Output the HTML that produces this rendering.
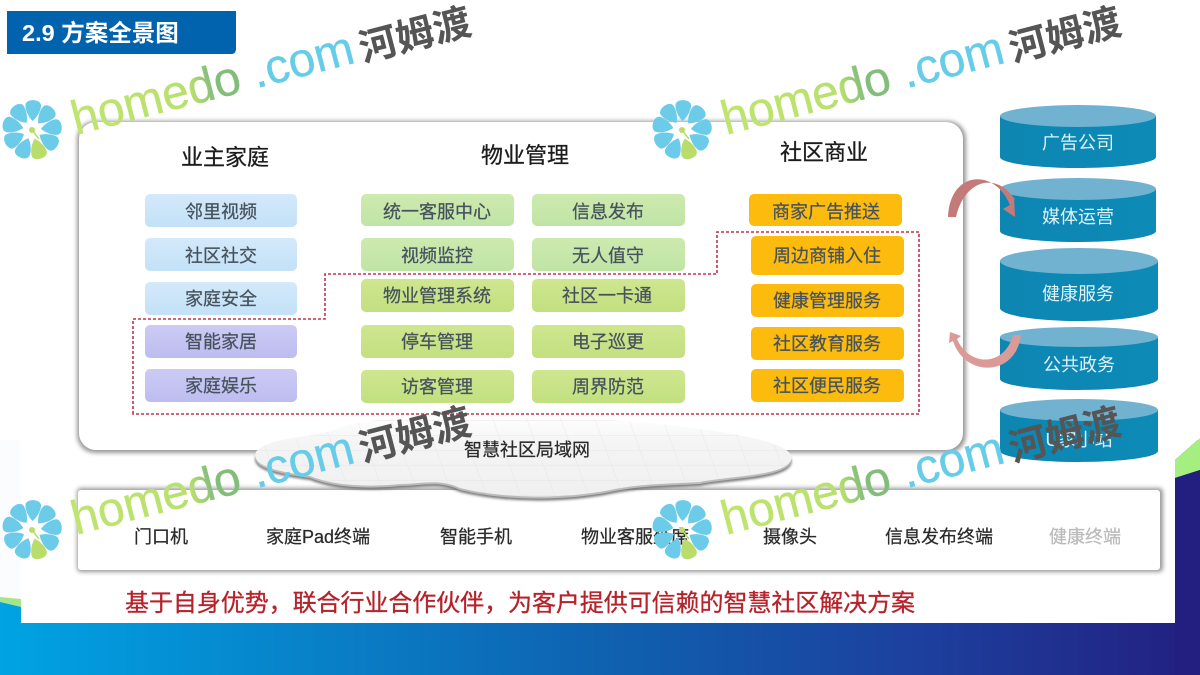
<!DOCTYPE html>
<html><head><meta charset="utf-8">
<style>
html,body{margin:0;padding:0;background:#fff}
body{width:1200px;height:675px;overflow:hidden}
svg{display:block}
text{font-family:"Liberation Sans","Noto Sans CJK SC",sans-serif}
.l{font-size:18px;fill:#46525c;stroke:#46525c;stroke-width:.25;text-anchor:middle}
.h{font-size:22px;fill:#1c1c1c;stroke:#1c1c1c;stroke-width:.3;text-anchor:middle}
.t{font-size:18px;fill:#2c2c2c;stroke:#2c2c2c;stroke-width:.25;text-anchor:middle}
.c{font-size:18px;fill:#dff2f7;text-anchor:middle}
.wm1{font-size:48px;font-weight:400;fill:url(#wm);stroke:url(#wm);stroke-width:.4}
.wm2{font-size:38px;font-weight:700;fill:#555}
</style></head><body>
<svg width="1200" height="675" viewBox="0 0 1200 675" xmlns="http://www.w3.org/2000/svg">
<defs>
<linearGradient id="bg" x1="0" x2="1" y1="0" y2="0"><stop offset="0" stop-color="#00a3e3"/><stop offset=".5" stop-color="#0f62b0"/><stop offset=".78" stop-color="#1d3e9c"/><stop offset="1" stop-color="#231f80"/></linearGradient>
<linearGradient id="blue" x1="0" y1="0" x2="0" y2="1"><stop offset="0" stop-color="#d4e9fa"/><stop offset="1" stop-color="#c3e1f7"/></linearGradient>
<linearGradient id="pur" x1="0" y1="0" x2="0" y2="1"><stop offset="0" stop-color="#cdcbf5"/><stop offset="1" stop-color="#bdbcf0"/></linearGradient>
<linearGradient id="gr1" x1="0" y1="0" x2="0" y2="1"><stop offset="0" stop-color="#cdeaaf"/><stop offset="1" stop-color="#c0e4a6"/></linearGradient>
<linearGradient id="gr2" x1="0" y1="0" x2="0" y2="1"><stop offset="0" stop-color="#cfe68f"/><stop offset="1" stop-color="#c2e080"/></linearGradient>
<linearGradient id="cyl" x1="0" x2="1" y1="0" y2="0"><stop offset="0" stop-color="#0f86b2"/><stop offset="1" stop-color="#118ab6"/></linearGradient>
<linearGradient id="cloudf" x1="0" y1="0" x2="0" y2="1"><stop offset="0" stop-color="#fff"/><stop offset=".35" stop-color="#f4f4f4"/><stop offset="1" stop-color="#f0f0f0"/></linearGradient>
<linearGradient id="wm" gradientUnits="userSpaceOnUse" x1="0" y1="0" x2="290" y2="0"><stop offset="0" stop-color="#bfe56f"/><stop offset=".42" stop-color="#b8e06e"/><stop offset=".5" stop-color="#82bd7a"/><stop offset=".645" stop-color="#82bd7a"/><stop offset=".65" stop-color="#66cde8"/><stop offset="1" stop-color="#66cde8"/></linearGradient>
<filter id="s" x="-10%" y="-10%" width="120%" height="120%"><feGaussianBlur stdDeviation="2"/></filter>
<filter id="s2" x="-10%" y="-20%" width="120%" height="140%"><feGaussianBlur stdDeviation="1.2"/></filter>
<filter id="b" x="-5%" y="-5%" width="110%" height="110%"><feGaussianBlur stdDeviation=".35"/></filter>
<pattern id="grid" width="34" height="15" patternUnits="userSpaceOnUse" patternTransform="skewX(20)"><path d="M0 0H34M0 0V15" stroke="#e2e2e2" stroke-width="1" fill="none"/></pattern>
<path id="p" d="M0 -9C-4.500 -13 -8 -20 -7.800 -25C-7.300 -31.500 7.300 -31.500 7.800 -25C8 -20 4.500 -13 0 -9Z"/>
<g id="flower">
<g fill="#6ccbe8">
<use href="#p" transform="rotate(3)"/><use href="#p" transform="rotate(43)"/><use href="#p" transform="rotate(83)"/><use href="#p" transform="rotate(123)"/><use href="#p" transform="rotate(203)"/><use href="#p" transform="rotate(243)"/><use href="#p" transform="rotate(283)"/><use href="#p" transform="rotate(323)"/>
</g>
<use href="#p" transform="rotate(163)" fill="#b9dc6a"/>
<path d="M0 0L7 9" stroke="#b9dc6a" stroke-width="1.500"/>
<circle cx="0" cy="0" r="3" fill="#b9dc6a"/>
</g>
<path id="cl" d="M256 452C268 436 320 438 338 428C390 412 470 414 540 418C600 416 680 426 720 432C760 438 800 448 790 462C780 476 730 476 700 482C660 484 640 484 610 490C560 500 500 498 460 488C440 478 420 484 400 484C360 488 330 484 310 476C280 472 250 466 256 452Z"/>
</defs>

<rect width="1200" height="675" fill="url(#bg)"/>
<rect x="0" y="0" width="1200" height="440" fill="#fff"/>
<polygon points="0,440 21,440 21,600 0,598" fill="#fbfcfd"/>
<polygon points="0,597 21,599 21,607 0,602" fill="#a6e58a"/>
<polygon points="1175,440 1200,440 1200,438 1175,460" fill="#fff"/>
<polygon points="1175,460 1200,438 1200,470 1175,478" fill="#a5ee80"/>
<polygon points="1175,478 1200,470 1200,675 1175,675" fill="#231f80"/>
<rect x="21" y="55" width="1154" height="568" fill="#fff"/>

<!-- title -->
<path d="M7 11H236V49Q236 54 231 54H7Z" fill="#0163ae"/>
<text x="22" y="41" style="font-size:23.500px;font-weight:700" fill="#fff">2.9 方案全景图</text>

<!-- main panel -->
<rect x="77" y="121" width="889" height="332" rx="18" fill="#999" filter="url(#s)"/>
<rect x="79" y="122" width="884" height="328" rx="17" fill="#fff"/>

<!-- bottom panel -->
<rect x="77" y="488" width="1086" height="84" rx="4" fill="#999" filter="url(#s)"/>
<rect x="78" y="490" width="1082" height="80" rx="3" fill="#fff"/>

<!-- cloud -->
<use href="#cl" fill="#777" filter="url(#s2)" transform="translate(0,4)"/>
<use href="#cl" fill="#bbb" transform="translate(0,2)"/>
<use href="#cl" fill="url(#cloudf)"/>
<use href="#cl" fill="url(#grid)" opacity=".8"/>

<g filter="url(#b)">
<text class="h" x="225" y="165">业主家庭</text>
<text class="h" x="525" y="163">物业管理</text>
<text class="h" x="824" y="160">社区商业</text>

<!-- left col -->
<rect x="145" y="194" width="152" height="33" rx="5" fill="url(#blue)"/>
<rect x="145" y="238" width="152" height="33" rx="5" fill="url(#blue)"/>
<rect x="145" y="282" width="152" height="33" rx="5" fill="url(#blue)"/>
<rect x="145" y="325" width="152" height="33" rx="5" fill="url(#pur)"/>
<rect x="145" y="369" width="152" height="33" rx="5" fill="url(#pur)"/>
<text class="l" x="221" y="218">邻里视频</text>
<text class="l" x="221" y="262">社区社交</text>
<text class="l" x="221" y="305">家庭安全</text>
<text class="l" x="221" y="348">智能家居</text>
<text class="l" x="221" y="392">家庭娱乐</text>

<!-- middle -->
<rect x="361" y="194" width="153" height="32" rx="5" fill="url(#gr1)"/>
<rect x="361" y="238" width="153" height="33" rx="5" fill="url(#gr1)"/>
<rect x="361" y="279" width="153" height="33" rx="5" fill="url(#gr2)"/>
<rect x="361" y="325" width="153" height="33" rx="5" fill="url(#gr2)"/>
<rect x="361" y="370" width="153" height="33" rx="5" fill="url(#gr2)"/>
<text class="l" x="437" y="218">统一客服中心</text>
<text class="l" x="437" y="262">视频监控</text>
<text class="l" x="437" y="302">物业管理系统</text>
<text class="l" x="437" y="348">停车管理</text>
<text class="l" x="437" y="393">访客管理</text>

<rect x="532" y="194" width="153" height="32" rx="5" fill="url(#gr1)"/>
<rect x="532" y="238" width="153" height="33" rx="5" fill="url(#gr1)"/>
<rect x="532" y="279" width="153" height="33" rx="5" fill="url(#gr2)"/>
<rect x="532" y="325" width="153" height="33" rx="5" fill="url(#gr2)"/>
<rect x="532" y="370" width="153" height="33" rx="5" fill="url(#gr2)"/>
<text class="l" x="608" y="218">信息发布</text>
<text class="l" x="608" y="262">无人值守</text>
<text class="l" x="607" y="302">社区一卡通</text>
<text class="l" x="608" y="348">电子巡更</text>
<text class="l" x="608" y="393">周界防范</text>

<!-- right -->
<rect x="749" y="194" width="153" height="32" rx="5" fill="#fdbb10"/>
<rect x="751" y="236" width="153" height="39" rx="5" fill="#fdbb10"/>
<rect x="751" y="284" width="153" height="33" rx="5" fill="#fdbb10"/>
<rect x="751" y="327" width="153" height="33" rx="5" fill="#fdbb10"/>
<rect x="751" y="369" width="153" height="33" rx="5" fill="#fdbb10"/>
<text class="l" x="826" y="218">商家广告推送</text>
<text class="l" x="827" y="262">周边商铺入住</text>
<text class="l" x="827" y="307">健康管理服务</text>
<text class="l" x="827" y="350">社区教育服务</text>
<text class="l" x="827" y="392">社区便民服务</text>

<!-- cylinders -->
<g>
<path d="M1000 116V157C1000 163 1035 168 1078 168S1156 163 1156 157V116Z" fill="url(#cyl)"/><ellipse cx="1078" cy="116" rx="78" ry="11" fill="#6fb2cf"/>
<path d="M1000 189V231C1000 237 1035 242 1078 242S1156 237 1156 231V189Z" fill="url(#cyl)"/><ellipse cx="1078" cy="189" rx="78" ry="11" fill="#6fb2cf"/>
<path d="M1000 261V308C1000 315 1035 321 1079 321S1158 315 1158 308V261Z" fill="url(#cyl)"/><ellipse cx="1079" cy="261" rx="79" ry="13" fill="#6fb2cf"/>
<path d="M1000 337V379C1000 385 1035 390 1079 390S1158 385 1158 379V337Z" fill="url(#cyl)"/><ellipse cx="1079" cy="337" rx="79" ry="10" fill="#6fb2cf"/>
<path d="M1000 410V451C1000 457 1035 462 1079 462S1158 457 1158 451V410Z" fill="url(#cyl)"/><ellipse cx="1079" cy="410" rx="79" ry="11" fill="#6fb2cf"/>
<text class="c" x="1078" y="149">广告公司</text>
<text class="c" x="1078" y="223">媒体运营</text>
<text class="c" x="1078" y="300">健康服务</text>
<text class="c" x="1079" y="371">公共政务</text>
<text class="c" x="1079" y="446">U家小站</text>
</g>

<!-- cycle arrows -->
<path d="M948 217C950 170 995 168 1010 205L1003 209L1015 217L1014 197L1015 200C998 172 965 178 956 217Z" fill="#c57a7a"/>
<path d="M1021 335C1016 377 965 378 953 341L949 343L950 332L961 336L957 339C970 368 1005 366 1013 335Z" fill="#d99a98"/>

<!-- dashed -->
<path d="M133 414V319H325V274H717V232H919V414Z" fill="none" stroke="#c4324a" stroke-width="1.6" stroke-dasharray="3 2"/>

<text x="527" y="456" text-anchor="middle" style="font-size:18px;stroke:#2a2a2a;stroke-width:.25" fill="#2a2a2a">智慧社区局域网</text>

<!-- bottom labels -->
<text class="t" x="161" y="543">门口机</text>
<text class="t" x="318" y="543">家庭Pad终端</text>
<text class="t" x="476" y="543">智能手机</text>
<text class="t" x="635" y="543">物业客服坐席</text>
<text class="t" x="790" y="543">摄像头</text>
<text class="t" x="939" y="543">信息发布终端</text>
<text class="t" x="1085" y="543" style="fill:#bbb;stroke:#bbb">健康终端</text>

<text x="520" y="611" text-anchor="middle" textLength="790" lengthAdjust="spacing" style="font-size:24px;stroke:#b5242c;stroke-width:.3" fill="#b5242c">基于自身优势，联合行业合作伙伴，为客户提供可信赖的智慧社区解决方案</text>
</g>

<!-- watermarks -->
<g>
<use href="#flower" transform="translate(32,130)"/>
<text class="wm1" transform="translate(76,135) rotate(-14.5)" textLength="290" lengthAdjust="spacingAndGlyphs">homedo .com</text>
<text class="wm2" transform="translate(363,62) rotate(-14.5)">河姆渡</text>
</g>
<g transform="translate(650,0)">
<use href="#flower" transform="translate(32,130)"/>
<text class="wm1" transform="translate(76,135) rotate(-14.5)" textLength="290" lengthAdjust="spacingAndGlyphs">homedo .com</text>
<text class="wm2" transform="translate(363,62) rotate(-14.5)">河姆渡</text>
</g>
<g transform="translate(0,400)">
<use href="#flower" transform="translate(32,130)"/>
<text class="wm1" transform="translate(76,135) rotate(-14.5)" textLength="290" lengthAdjust="spacingAndGlyphs">homedo .com</text>
<text class="wm2" transform="translate(363,62) rotate(-14.5)">河姆渡</text>
</g>
<g transform="translate(650,400)">
<use href="#flower" transform="translate(32,130)"/>
<text class="wm1" transform="translate(76,135) rotate(-14.5)" textLength="290" lengthAdjust="spacingAndGlyphs">homedo .com</text>
<text class="wm2" transform="translate(363,62) rotate(-14.5)">河姆渡</text>
</g>
</svg>
</body></html>
